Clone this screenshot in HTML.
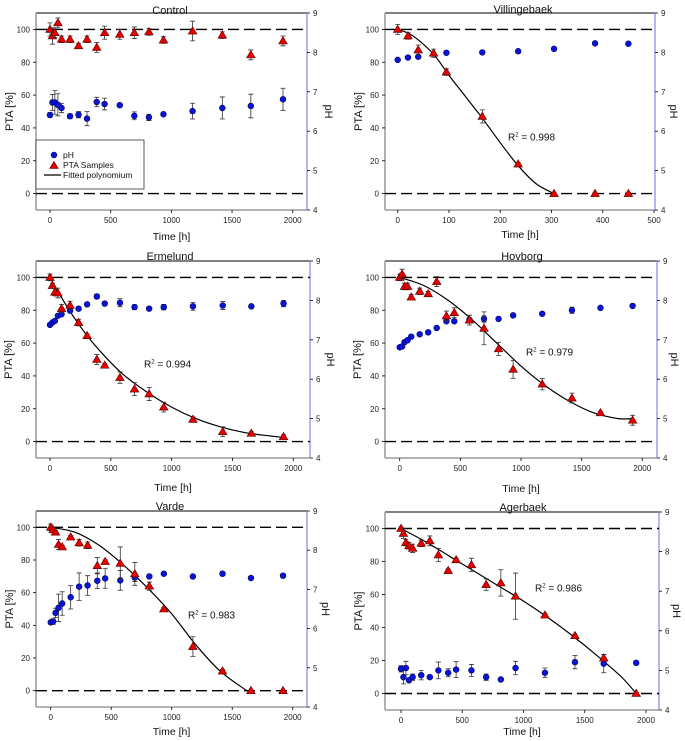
<!DOCTYPE html>
<html><head><meta charset="utf-8"><style>
body{margin:0;background:#fff}
svg{display:block;font-family:"Liberation Sans",sans-serif}
</style></head><body>
<svg id="fig" width="685" height="741" viewBox="0 0 685 741" xmlns="http://www.w3.org/2000/svg"></svg>
<script>
// ---- data (time in h, PTA in %, pH) ----
const timesStd = [0,20,40,65,95,165,235,305,385,450,575,695,815,935,1175,1420,1655,1920];
const controlPta = [100,96,98,104,94,94,90,94,89,98,97,98,98.5,93.5,99,96.5,84.5,93];
const controlPtaErr = [4,5,3,3,2,2,1.5,2,3,4,3,3.5,2,2,6,2,3,3];
const controlPh = [6.41,6.73,6.73,6.67,6.59,6.38,6.42,6.32,6.74,6.69,6.66,6.39,6.35,6.43,6.51,6.59,6.64,6.81];
const controlPhErr = [0.06,0.2,0.3,0.28,0.12,0.06,0.08,0.18,0.12,0.15,0.03,0.1,0.08,0.03,0.2,0.28,0.3,0.28];

const villTime = [0,20,40,70,95,165,235,305,385,450];
const villPta = [100,96,87.5,85.5,74,47,18,0,0,0];
const villPtaErr = [3,2,3,2.5,2,4,1,0.5,0.5,0.5];
const villPhTime = [0,20,40,95,165,235,305,385,450];
const villPh = [7.81,7.87,7.89,7.99,8.0,8.03,8.09,8.23,8.22];
const villPhErr = [0.02,0.02,0.02,0.02,0.02,0.02,0.02,0.02,0.02];
const villFitT = [0,25,50,75,100,125,150,165,200,235,270,305];
const villFitY = [100,97,91,83,72,62,52,46,31,17,6,0];

const ermPta = [100,95,91,90.5,81,83,72.5,64.5,50,46.5,39,32,29,21,13.5,6,5,3];
const ermPtaErr = [2,1.5,2,3,2.5,2.5,2,1,3,1,3.5,4,4,3,1.5,3,1,1];
const ermPh = [7.38,7.44,7.48,7.61,7.65,7.74,7.79,7.90,8.10,7.92,7.94,7.83,7.79,7.83,7.85,7.87,7.85,7.92];
const ermPhErr = [0.04,0.03,0.03,0.03,0.03,0.03,0.03,0.03,0.06,0.04,0.1,0.06,0.03,0.07,0.1,0.1,0.03,0.08];
const ermFitT = [0,150,300,450,600,800,1000,1200,1400,1600,1800,1920];
const ermFitY = [100,81,65,52,41,30,21,14,9,5.5,3.5,2.5];

const hovPta = [100,102,94.5,94.5,88,91.5,90,97.5,76.5,78.5,74,69,56.5,44,35,26.5,17.5,13];
const hovPtaErr = [2,3,2,2,1.5,2,1.5,3,3,3,3,10,4,5.5,3.5,3,1,3];
const hovPh = [6.81,6.83,6.94,6.99,7.08,7.14,7.19,7.30,7.47,7.47,7.51,7.53,7.53,7.62,7.66,7.75,7.81,7.86];
const hovPhErr = [0.02,0.02,0.02,0.02,0.02,0.02,0.05,0.02,0.03,0.03,0.03,0.08,0.03,0.02,0.02,0.08,0.02,0.02];
const hovFitT = [0,200,400,600,800,1000,1200,1400,1600,1800,1920];
const hovFitY = [100,95,86,74,60,46,34,24.5,17.5,14,14];

const vardePta = [100,98.5,97,89.5,88,94,90.5,89,76.5,79,78,71.5,64,50,27,12,0,0];
const vardePtaErr = [2,1.5,1,3,1,1,2,2,5,1,10,7,2.5,1,6,1,0.5,0.5];
const vardePh = [6.16,6.18,6.40,6.53,6.64,6.80,7.07,7.10,7.22,7.28,7.23,7.30,7.33,7.40,7.33,7.40,7.29,7.35];
const vardePhErr = [0.03,0.07,0.12,0.35,0.3,0.3,0.35,0.25,0.2,0.25,0.25,0.1,0.03,0.03,0.03,0.05,0.03,0.03];
const vardeFitT = [0,200,400,600,800,1000,1200,1400,1620];
const vardeFitY = [100,97,89,77,63,47,28,12,0];

const agerPta = [100,97,91.5,89.5,88,91,92.5,84,74.5,81,78,66,67,59,47.5,35,21.5,0];
const agerPtaErr = [1,3,2,2,2.5,2,3,4,1,1,4,3.5,8,14,1,1,2,0.5];
const agerPh = [5.04,4.83,5.06,4.75,4.83,4.88,4.83,5.0,4.94,5.02,5.0,4.83,4.77,5.06,4.94,5.21,5.17,5.19];
const agerPhErr = [0.08,0.17,0.17,0.03,0.08,0.12,0.03,0.21,0.1,0.2,0.15,0.08,0.03,0.17,0.12,0.17,0.23,0.05];
const agerFitT = [0,200,400,600,800,1000,1200,1400,1600,1800,1920];
const agerFitY = [100,92,83,74,65,56,46,35,23,10,0];

// ---- layout (pixels) ----
const panels = [
 {name:'control',title:'Control',l:36,r:307,t:13,b:210,x0:50,xRefPx:292.7,xRef:2000,xTicks:[0,500,1000,1500,2000],
  time:timesStd,pta:controlPta,ptaErr:controlPtaErr,phTime:timesStd,ph:controlPh,phErr:controlPhErr,fitT:null,fitY:null,
  titleX:170,titleY:10,timeY:236,ptaX:9,phX:329,legend:true},
 {name:'villingebaek',title:'Villingebaek',l:385,r:655,t:13,b:210,x0:397.7,xRefPx:654,xRef:500,xTicks:[0,100,200,300,400,500],
  time:villTime,pta:villPta,ptaErr:villPtaErr,phTime:villPhTime,ph:villPh,phErr:villPhErr,fitT:villFitT,fitY:villFitY,
  titleX:523,titleY:9,timeY:234,ptaX:358,phX:674,r2:'0.998',r2x:508,r2y:137},
 {name:'ermelund',title:'Ermelund',l:36,r:310,t:261,b:458,x0:50,xRefPx:293.3,xRef:2000,xTicks:[0,500,1000,1500,2000],
  time:timesStd,pta:ermPta,ptaErr:ermPtaErr,phTime:timesStd,ph:ermPh,phErr:ermPhErr,fitT:ermFitT,fitY:ermFitY,
  titleX:170,titleY:256,timeY:487,ptaX:8,phX:331,r2:'0.994',r2x:144,r2y:364},
 {name:'hovborg',title:'Hovborg',l:385,r:657,t:261,b:458,x0:399.7,xRefPx:642.3,xRef:2000,xTicks:[0,500,1000,1500,2000],
  time:timesStd,pta:hovPta,ptaErr:hovPtaErr,phTime:timesStd,ph:hovPh,phErr:hovPhErr,fitT:hovFitT,fitY:hovFitY,
  titleX:522,titleY:256,timeY:488,ptaX:357,phX:675,r2:'0.979',r2x:526,r2y:352},
 {name:'varde',title:'Varde',l:36,r:307,t:511,b:707,x0:50.7,xRefPx:292.7,xRef:2000,xTicks:[0,500,1000,1500,2000],
  time:timesStd,pta:vardePta,ptaErr:vardePtaErr,phTime:timesStd,ph:vardePh,phErr:vardePhErr,fitT:vardeFitT,fitY:vardeFitY,
  titleX:170,titleY:506,timeY:731,ptaX:9,phX:326,r2:'0.983',r2x:188,r2y:615},
 {name:'agerbaek',title:'Agerbaek',l:385,r:659,t:512,b:710,x0:401,xRefPx:646,xRef:2000,xTicks:[0,500,1000,1500,2000],
  time:timesStd,pta:agerPta,ptaErr:agerPtaErr,phTime:timesStd,ph:agerPh,phErr:agerPhErr,fitT:agerFitT,fitY:agerFitY,
  titleX:523,titleY:507,timeY:731,ptaX:358,phX:677,r2:'0.986',r2x:535,r2y:588}
];

const NS='http://www.w3.org/2000/svg';
const svg=document.getElementById('fig');
function mk(tag,attrs,parent,text){const e=document.createElementNS(NS,tag);for(const k in attrs)e.setAttribute(k,attrs[k]);if(text!==undefined)e.textContent=text;(parent||svg).appendChild(e);return e;}

panels.forEach(p=>{
  const g=mk('g',{});
  
  
  const xs=v=>p.x0+(v/p.xRef)*(p.xRefPx-p.x0);
  const ys=v=>p.b-(v+10)/120*(p.b-p.t);
  const yph=v=>p.b-(v-4)/5*(p.b-p.t);
  const top=mk('line',{x1:p.l,y1:p.t,x2:p.r,y2:p.t,stroke:'#000','stroke-width':1},g);
  
  const la=mk('line',{x1:p.l,y1:p.t,x2:p.l,y2:p.b,stroke:'#999','stroke-width':1.5},g);
  
  const ba=mk('line',{x1:p.l,y1:p.b,x2:p.r,y2:p.b,stroke:'#888','stroke-width':1.2},g);
  
  const ra=mk('line',{x1:p.r,y1:p.t,x2:p.r,y2:p.b,stroke:'#9aa0ee','stroke-width':1.5},g);
  
  [0,20,40,60,80,100].forEach(v=>{
    mk('line',{x1:p.l-3,y1:ys(v),x2:p.l,y2:ys(v),stroke:'#000','stroke-width':0.8},g);
    const t=mk('text',{x:p.l-6,y:ys(v)+3,'font-size':8,'text-anchor':'end',fill:'#222'},g,String(v));
    
  });
  [4,5,6,7,8,9].forEach(v=>{
    mk('line',{x1:p.r,y1:yph(v),x2:p.r+3,y2:yph(v),stroke:'#000','stroke-width':0.8},g);
    const t=mk('text',{x:p.r+6,y:yph(v)+3,'font-size':8,fill:'#222'},g,String(v));
    
  });
  p.xTicks.forEach(v=>{
    mk('line',{x1:xs(v),y1:p.b,x2:xs(v),y2:p.b+3,stroke:'#000','stroke-width':0.8},g);
    const t=mk('text',{x:xs(v),y:p.b+13,'font-size':8,'text-anchor':'middle',fill:'#222'},g,String(v));
    
  });
  [0,100].forEach(v=>{
    const d=mk('line',{x1:p.l,y1:ys(v),x2:p.r,y2:ys(v),stroke:'#000','stroke-width':1.4,'stroke-dasharray':'11,5'},g);
    
  });
  const ti=mk('text',{x:p.titleX,y:p.titleY+4,'font-size':11,'text-anchor':'middle',fill:'#111'},g,p.title);
  
  const tx=mk('text',{x:(p.l+p.r)/2,y:p.timeY+4,'font-size':10.5,'text-anchor':'middle',fill:'#111'},g,'Time [h]');
  
  const cy=(p.t+p.b)/2;
  const ty=mk('text',{x:p.ptaX,y:cy,'font-size':11,'text-anchor':'middle',fill:'#111',transform:`rotate(-90 ${p.ptaX} ${cy})`,dy:4},g,'PTA [%]');
  
  const tp=mk('text',{x:p.phX,y:cy,'font-size':11,'text-anchor':'middle',fill:'#111',transform:`rotate(90 ${p.phX} ${cy})`,dy:4},g,'pH');
  
  if(p.fitT){
    const pts=p.fitT.map((t,i)=>[xs(t),ys(p.fitY[i])]);
    let d=`M${pts[0][0]},${pts[0][1]}`;
    for(let i=0;i<pts.length-1;i++){
      const p0=pts[Math.max(0,i-1)],p1=pts[i],p2=pts[i+1],p3=pts[Math.min(pts.length-1,i+2)];
      const c1=[p1[0]+(p2[0]-p0[0])/6,p1[1]+(p2[1]-p0[1])/6];
      const c2=[p2[0]-(p3[0]-p1[0])/6,p2[1]-(p3[1]-p1[1])/6];
      d+=`C${c1[0]},${c1[1]} ${c2[0]},${c2[1]} ${p2[0]},${p2[1]}`;
    }
    const f=mk('path',{d:d,fill:'none',stroke:'#000','stroke-width':1.2},g);
    
    const r=mk('text',{x:p.r2x,y:p.r2y+3.5,'font-size':10,fill:'#111'},g);
    
    r.appendChild(document.createTextNode('R'));
    mk('tspan',{'font-size':6,dy:-4},r,'2');
    mk('tspan',{dy:4},r,' = '+p.r2);
  }
  p.phTime.forEach((t,i)=>{
    const x=xs(t),y=yph(p.ph[i]),e1=yph(p.ph[i]+p.phErr[i]),e2=yph(p.ph[i]-p.phErr[i]);
    mk('path',{d:`M${x},${e1}V${e2}M${x-2.5},${e1}H${x+2.5}M${x-2.5},${e2}H${x+2.5}`,stroke:'#333','stroke-width':0.8,fill:'none'},g);
    const c=mk('circle',{cx:x,cy:y,r:2.9,fill:'#0a14d8',stroke:'#000066','stroke-width':0.6},g);
    
  });
  p.time.forEach((t,i)=>{
    const x=xs(t),y=ys(p.pta[i]),e1=ys(p.pta[i]+p.ptaErr[i]),e2=ys(p.pta[i]-p.ptaErr[i]);
    mk('path',{d:`M${x},${e1}V${e2}M${x-2.5},${e1}H${x+2.5}M${x-2.5},${e2}H${x+2.5}`,stroke:'#333','stroke-width':0.8,fill:'none'},g);
    const tr=mk('path',{d:`M${x},${y-4.3}L${x+4.3},${y+3}L${x-4.3},${y+3}Z`,fill:'#e60000',stroke:'#550000','stroke-width':0.6},g);
    
  });
  if(p.legend){
    const lg=mk('g',{},g);
    
    mk('rect',{x:36,y:140,width:108,height:49,fill:'#fff',stroke:'#333','stroke-width':0.8},lg);
    mk('circle',{cx:54,cy:155,r:2.9,fill:'#0a14d8',stroke:'#000066','stroke-width':0.6},lg);
    mk('text',{x:63,y:158,'font-size':8.5,fill:'#111'},lg,'pH');
    mk('path',{d:'M54,161.5L58.3,168.5L49.7,168.5Z',fill:'#e60000',stroke:'#550000','stroke-width':0.6},lg);
    mk('text',{x:63,y:168,'font-size':8.5,fill:'#111'},lg,'PTA Samples');
    mk('line',{x1:44,y1:175,x2:61,y2:175,stroke:'#000','stroke-width':1.2},lg);
    mk('text',{x:63,y:178,'font-size':8.5,fill:'#111'},lg,'Fitted polynomium');
  }
});
</script>
</body></html>
